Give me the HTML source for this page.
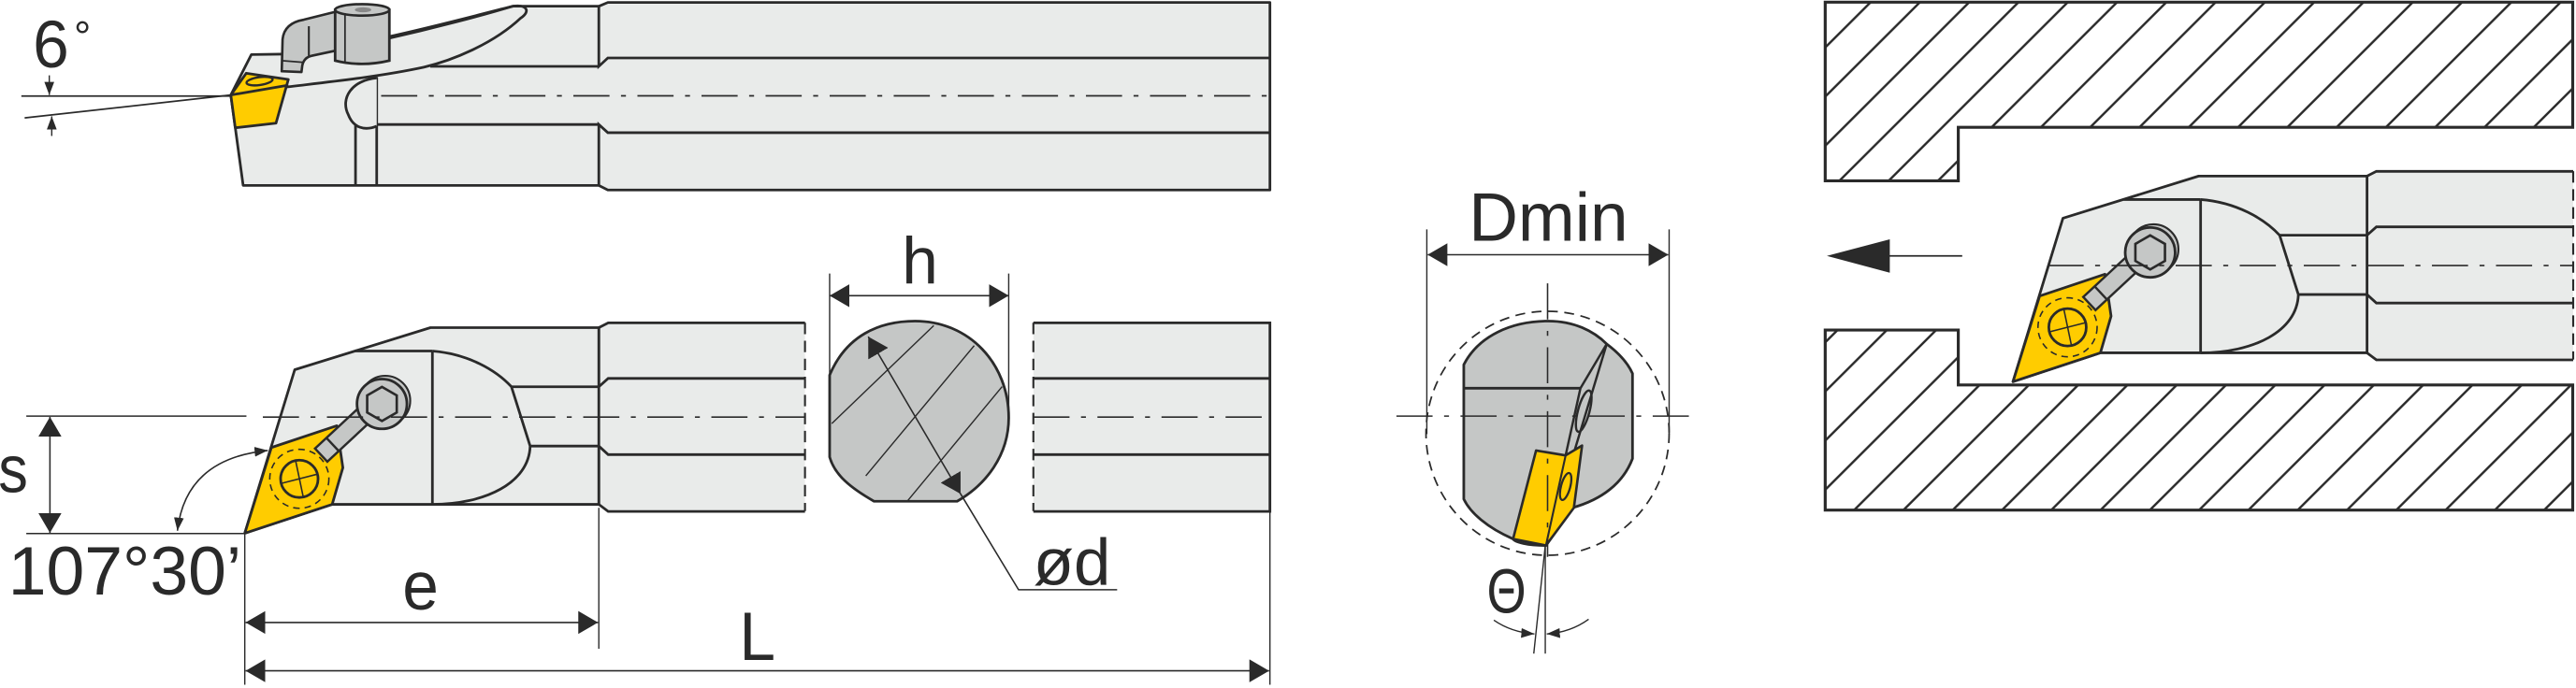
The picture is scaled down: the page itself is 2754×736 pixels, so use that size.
<!DOCTYPE html>
<html><head><meta charset="utf-8">
<style>
html,body{margin:0;padding:0;background:#fff;}
svg{display:block;}
text{font-family:"Liberation Sans",sans-serif;fill:#2a2a2a;}
</style></head>
<body>
<svg width="2754" height="736" viewBox="0 0 1568 420" preserveAspectRatio="none" xmlns="http://www.w3.org/2000/svg">
<defs>
<marker id="ar" viewBox="0 0 12 14" refX="12" refY="7" markerWidth="12" markerHeight="14" markerUnits="userSpaceOnUse" orient="auto-start-reverse"><path d="M0,0 L12,7 L0,14 Z" fill="#2a2a2a"/></marker>
<marker id="as" viewBox="0 0 8 6" refX="8" refY="3" markerWidth="8" markerHeight="6" markerUnits="userSpaceOnUse" orient="auto-start-reverse"><path d="M0,0 L8,3 L0,6 Z" fill="#2a2a2a"/></marker>
<pattern id="hatch" x="0" y="0" width="30" height="30" patternUnits="userSpaceOnUse">
<path d="M-5,35 L35,-5 M-20,20 L20,-20 M10,50 L50,10" stroke="#2a2a2a" stroke-width="1.4"/>
</pattern>
<clipPath id="insClip"><path d="M149,325.5 L165.2,273.2 L205,259.9 L208.7,285.5 L202.2,307.9 Z"/></clipPath>
<clipPath id="secClip"><path d="M505,229 C515,205 535,196 557,196 C590,196 614,222 614,255 C614,278 600,296 582.6,306 L532,306 C518,298 508,290 505,279 Z"/></clipPath>

<g id="head">
<path d="M149,325.5 L179.4,225.7 L262,200 L364.5,200 L364.5,307.9 L202.2,307.9 Z" fill="#e9ebea" stroke="#2a2a2a" stroke-width="1.6" stroke-linejoin="round"/>
<line x1="216.4" y1="214.3" x2="263.2" y2="214.3" stroke="#2a2a2a" stroke-width="1.6"/>
<path d="M263.2,214.3 C285,216 302,226 311.3,236.1 L322.7,272.3 C322,295 295,307.9 263.2,307.9" fill="#e9ebea" stroke="#2a2a2a" stroke-width="1.6"/>
<line x1="263.2" y1="214.3" x2="263.2" y2="307.9" stroke="#2a2a2a" stroke-width="1.6"/>
<line x1="311.3" y1="236.1" x2="364.5" y2="236.1" stroke="#2a2a2a" stroke-width="1.6"/>
<line x1="322.7" y1="272.3" x2="364.5" y2="272.3" stroke="#2a2a2a" stroke-width="1.6"/>
<path d="M149,325.5 L165.2,273.2 L205,259.9 L208.7,285.5 L202.2,307.9 Z" fill="#ffcc00" stroke="#2a2a2a" stroke-width="1.6" stroke-linejoin="round"/>
<circle cx="182.2" cy="292.3" r="18" fill="none" stroke="#2a2a2a" stroke-width="0.9" stroke-dasharray="4,3" clip-path="url(#insClip)"/>
<circle cx="182.2" cy="292.3" r="11.4" fill="#ffcc00" stroke="#2a2a2a" stroke-width="1.6"/>
<line x1="171.5" y1="295" x2="193" y2="289.5" stroke="#2a2a2a" stroke-width="0.9"/>
<line x1="180" y1="281.5" x2="184.5" y2="303" stroke="#2a2a2a" stroke-width="0.9"/>
<g transform="rotate(-43 195.5 277.8)">
<rect x="195.5" y="272.3" width="46" height="11" fill="#c5c7c6" stroke="#2a2a2a" stroke-width="1.4"/>
<line x1="205" y1="272.3" x2="205" y2="283.3" stroke="#2a2a2a" stroke-width="1.4"/>
</g>
<circle cx="234.5" cy="244.6" r="15.2" fill="#c5c7c6" stroke="#2a2a2a" stroke-width="1.2"/>
<circle cx="232.5" cy="246.6" r="15.2" fill="#c5c7c6" stroke="#2a2a2a" stroke-width="1.6"/>
<path d="M232.5,236.2 L241.5,241.4 L241.5,251.8 L232.5,257 L223.5,251.8 L223.5,241.4 Z" fill="#c5c7c6" stroke="#2a2a2a" stroke-width="1.5"/>
</g>
</defs>

<!-- TOP VIEW -->
<path d="M140.5,58 L153,33.3 L175,33 L234,23 C270,15 295,8 312.3,3.8 L364.5,3.8 L370,1.5 L773,1.5 L773,116 L370,116 L364.5,113.2 L148,113.2 Z" fill="#e9ebea" stroke="#2a2a2a" stroke-width="1.6" stroke-linejoin="round"/>
<path d="M364.5,3.8 L364.5,40.5 L370,35.4 L773,35.4" fill="none" stroke="#2a2a2a" stroke-width="1.6"/>
<path d="M364.5,113.2 L364.5,76 L370,81 L773,81" fill="none" stroke="#2a2a2a" stroke-width="1.6"/>
<line x1="261.9" y1="40.5" x2="364.5" y2="40.5" stroke="#2a2a2a" stroke-width="1.6"/>
<line x1="228.6" y1="76" x2="364.5" y2="76" stroke="#2a2a2a" stroke-width="1.6"/>
<path d="M234,24 C265,17 295,9 312,3.8 C321,2.5 323,7 317,11 C300,27 275,37 258,41 C230,47 200,50 172.8,53.3" fill="none" stroke="#2a2a2a" stroke-width="1.6"/>
<line x1="216.4" y1="60" x2="216.4" y2="113.2" stroke="#2a2a2a" stroke-width="1.6"/>
<line x1="229.3" y1="47" x2="229.3" y2="113.2" stroke="#2a2a2a" stroke-width="1.6"/>
<path d="M229.3,47.6 C214,49 207,60 212,70 C215,78 222,80 229.3,77" fill="#e9ebea" stroke="#2a2a2a" stroke-width="1.6"/>
<line x1="232" y1="58.5" x2="773" y2="58.5" stroke="#2a2a2a" stroke-width="1" stroke-dasharray="22,7,3,7"/>
<path d="M140.5,58 L149.9,44.7 L175.5,48.5 L168,75.2 L143.2,78 Z" fill="#ffcc00" stroke="#2a2a2a" stroke-width="1.6" stroke-linejoin="round"/>
<line x1="140.5" y1="58" x2="175.5" y2="52" stroke="#2a2a2a" stroke-width="1.6"/>
<ellipse cx="158" cy="49.5" rx="8" ry="2.4" transform="rotate(-8 158 49.5)" fill="#ffcc00" stroke="#2a2a2a" stroke-width="1.4"/>
<path d="M171.5,43.5 L172,24 Q173,14 185,12 L207,6.5 L207,34 L204,31 L190,34 Q185,35 184,40 L183.5,44 Z" fill="#c5c7c6" stroke="#2a2a2a" stroke-width="1.5" stroke-linejoin="round"/>
<line x1="188" y1="16" x2="188" y2="34" stroke="#2a2a2a" stroke-width="1.2"/>
<path d="M204,6 L204,37 Q220,41 237,37 L237,6 Z" fill="#c5c7c6" stroke="#2a2a2a" stroke-width="1.6"/>
<ellipse cx="220.5" cy="6" rx="16.5" ry="3.5" fill="#c5c7c6" stroke="#2a2a2a" stroke-width="1.5"/>
<ellipse cx="221" cy="6" rx="5" ry="1.5" fill="#888" />
<line x1="210" y1="8" x2="210" y2="38" stroke="#2a2a2a" stroke-width="1"/>
<line x1="171.5" y1="37" x2="184" y2="38" stroke="#2a2a2a" stroke-width="1"/>
<line x1="13" y1="58.6" x2="140.5" y2="58.6" stroke="#2a2a2a" stroke-width="1"/>
<line x1="15" y1="72" x2="140.5" y2="58" stroke="#2a2a2a" stroke-width="1"/>
<line x1="30" y1="46" x2="30" y2="58" stroke="#2a2a2a" stroke-width="0.8" marker-end="url(#as)"/>
<line x1="31.5" y1="83" x2="31.5" y2="71" stroke="#2a2a2a" stroke-width="0.8" marker-end="url(#as)"/>
<text x="20" y="41" font-size="41" textLength="22" lengthAdjust="spacingAndGlyphs">6</text>
<text x="45" y="31" font-size="26">°</text>

<!-- BOTTOM VIEW -->
<path d="M364.5,200 L370.2,197.1 L490,197.1 L490,312.2 L370.2,312.2 L364.5,307.9 Z" fill="#e9ebea"/>
<path d="M364.5,200 L370.2,197.1 L490,197.1 M364.5,307.9 L370.2,312.2 L490,312.2 M364.5,236.1 L370.2,231 L490,231 M364.5,272.3 L370.2,277.5 L490,277.5" fill="none" stroke="#2a2a2a" stroke-width="1.6"/>
<line x1="364.5" y1="200" x2="364.5" y2="236.1" stroke="#2a2a2a" stroke-width="1.6"/>
<line x1="364.5" y1="272.3" x2="364.5" y2="307.9" stroke="#2a2a2a" stroke-width="1.6"/>
<line x1="490" y1="197" x2="490" y2="312" stroke="#2a2a2a" stroke-width="1.2" stroke-dasharray="7,4"/>
<rect x="629" y="197.1" width="144" height="115.1" fill="#e9ebea"/>
<path d="M629,197.1 L773,197.1 L773,312.2 L629,312.2 M629,231 L773,231 M629,277.5 L773,277.5" fill="none" stroke="#2a2a2a" stroke-width="1.6"/>
<line x1="629" y1="197" x2="629" y2="312" stroke="#2a2a2a" stroke-width="1.2" stroke-dasharray="7,4"/>
<use href="#head"/>
<line x1="16" y1="254" x2="150" y2="254" stroke="#2a2a2a" stroke-width="0.9"/>
<line x1="160" y1="254.6" x2="490" y2="254.6" stroke="#2a2a2a" stroke-width="0.9" stroke-dasharray="22,7,3,7"/>
<line x1="629" y1="254.6" x2="773" y2="254.6" stroke="#2a2a2a" stroke-width="0.9" stroke-dasharray="22,7,3,7"/>
<path d="M505,229 C515,205 535,196 557,196 C590,196 614,222 614,255 C614,278 600,296 582.6,306 L532,306 C518,298 508,290 505,279 Z" fill="#c5c7c6"/>
<g clip-path="url(#secClip)" stroke="#2a2a2a" stroke-width="0.8">
<line x1="506.3" y1="258.6" x2="568.4" y2="198.7"/>
<line x1="527" y1="290.5" x2="593" y2="211"/>
<line x1="552.3" y1="305.9" x2="610" y2="236"/>
</g>
<path d="M505,229 C515,205 535,196 557,196 C590,196 614,222 614,255 C614,278 600,296 582.6,306 L532,306 C518,298 508,290 505,279 Z" fill="none" stroke="#2a2a2a" stroke-width="1.6"/>
<line x1="528.5" y1="205.5" x2="584.7" y2="301.5" stroke="#2a2a2a" stroke-width="0.9" marker-start="url(#ar)" marker-end="url(#ar)"/>
<polyline points="584.7,301.5 620,360 680,360" fill="none" stroke="#2a2a2a" stroke-width="0.9"/>
<text x="629" y="357" font-size="40" textLength="47" lengthAdjust="spacingAndGlyphs">ød</text>
<line x1="505" y1="167" x2="505" y2="250" stroke="#2a2a2a" stroke-width="0.8"/>
<line x1="614" y1="167" x2="614" y2="250" stroke="#2a2a2a" stroke-width="0.8"/>
<line x1="505" y1="180.5" x2="614" y2="180.5" stroke="#2a2a2a" stroke-width="0.9" marker-start="url(#ar)" marker-end="url(#ar)"/>
<text x="549" y="173" font-size="40" textLength="22" lengthAdjust="spacingAndGlyphs">h</text>
<line x1="16" y1="325.7" x2="150" y2="325.7" stroke="#2a2a2a" stroke-width="0.9"/>
<line x1="30.4" y1="254.5" x2="30.4" y2="325.3" stroke="#2a2a2a" stroke-width="0.9" marker-start="url(#ar)" marker-end="url(#ar)"/>
<text x="-1" y="300.5" font-size="41" textLength="18" lengthAdjust="spacingAndGlyphs">s</text>
<path d="M108,324 Q113,280 163,275" fill="none" stroke="#2a2a2a" stroke-width="0.9" marker-start="url(#as)" marker-end="url(#as)"/>
<text x="5" y="363" font-size="42" textLength="142" lengthAdjust="spacingAndGlyphs">107°30’</text>
<line x1="149" y1="326" x2="149" y2="418" stroke="#2a2a2a" stroke-width="0.8"/>
<line x1="364.5" y1="310" x2="364.5" y2="396" stroke="#2a2a2a" stroke-width="0.8"/>
<line x1="773" y1="312" x2="773" y2="418" stroke="#2a2a2a" stroke-width="0.8"/>
<line x1="149.5" y1="380" x2="364" y2="380" stroke="#2a2a2a" stroke-width="0.9" marker-start="url(#ar)" marker-end="url(#ar)"/>
<text x="245" y="372" font-size="42" textLength="22" lengthAdjust="spacingAndGlyphs">e</text>
<line x1="149.5" y1="409.5" x2="772.5" y2="409.5" stroke="#2a2a2a" stroke-width="0.9" marker-start="url(#ar)" marker-end="url(#ar)"/>
<text x="450" y="403" font-size="42" textLength="22" lengthAdjust="spacingAndGlyphs">L</text>

<!-- END VIEW -->
<line x1="868.5" y1="140" x2="868.5" y2="265" stroke="#2a2a2a" stroke-width="0.8"/>
<line x1="1016" y1="140" x2="1016" y2="265" stroke="#2a2a2a" stroke-width="0.8"/>
<line x1="869" y1="155.5" x2="1015.5" y2="155.5" stroke="#2a2a2a" stroke-width="0.9" marker-start="url(#ar)" marker-end="url(#ar)"/>
<text x="894" y="147" font-size="42" textLength="97" lengthAdjust="spacingAndGlyphs">Dmin</text>
<ellipse cx="942" cy="264.5" rx="74" ry="74.5" fill="none" stroke="#2a2a2a" stroke-width="1" stroke-dasharray="6,4"/>
<path d="M891,222.6 C900,205 920,196 942.5,196 C958,196 970,202 978,210 C986,216 991,222 993.7,228 L993.7,280 C988,295 975,305 957,310 L941,333 C930,333 922,331 921,329 C905,322 895,313 891,304.7 Z" fill="#c5c7c6" stroke="#2a2a2a" stroke-width="1.6" stroke-linejoin="round"/>
<line x1="891" y1="237" x2="962" y2="237" stroke="#2a2a2a" stroke-width="1.6"/>
<path d="M978,210 L962,237 L953,278" fill="none" stroke="#2a2a2a" stroke-width="1.4"/>
<line x1="978" y1="210" x2="941" y2="333" stroke="#2a2a2a" stroke-width="1.4"/>
<ellipse cx="964" cy="251" rx="3.5" ry="13" transform="rotate(15 964 251)" fill="none" stroke="#2a2a2a" stroke-width="1.4"/>
<path d="M921,329 L935,275 L953,278 L963,272 L958,310 L941,333 Z" fill="#ffcc00" stroke="#2a2a2a" stroke-width="1.5" stroke-linejoin="round"/>
<line x1="953" y1="278" x2="941" y2="333" stroke="#2a2a2a" stroke-width="1.2"/>
<ellipse cx="953" cy="297" rx="2.8" ry="8.5" transform="rotate(15 953 297)" fill="none" stroke="#2a2a2a" stroke-width="1.3"/>
<line x1="850" y1="254" x2="1035" y2="254" stroke="#2a2a2a" stroke-width="0.9" stroke-dasharray="22,7,3,7"/>
<line x1="942" y1="173" x2="942" y2="340" stroke="#2a2a2a" stroke-width="0.9" stroke-dasharray="22,7,3,7"/>
<line x1="940.6" y1="333" x2="933.6" y2="399" stroke="#2a2a2a" stroke-width="0.8"/>
<line x1="940.6" y1="333" x2="940.6" y2="399" stroke="#2a2a2a" stroke-width="0.8"/>
<path d="M909.3,378.6 Q920,386 934,387" fill="none" stroke="#2a2a2a" stroke-width="0.8" marker-end="url(#as)"/>
<path d="M967,378 Q956,386 941.5,387" fill="none" stroke="#2a2a2a" stroke-width="0.8" marker-end="url(#as)"/>
<text x="905" y="374" font-size="38" textLength="24" lengthAdjust="spacingAndGlyphs">Θ</text>

<!-- RIGHT VIEW -->
<path d="M1111,1.3 L1566,1.3 L1566,77.7 L1192,77.7 L1192,110.4 L1111,110.4 Z" fill="url(#hatch)" stroke="#2a2a2a" stroke-width="1.8"/>
<path d="M1111,201.5 L1192,201.5 L1192,235 L1566,235 L1566,311.4 L1111,311.4 Z" fill="url(#hatch)" stroke="#2a2a2a" stroke-width="1.8"/>
<path d="M1112,156.2 L1150.3,146.1 L1150.3,166.5 Z" fill="#2a2a2a"/>
<line x1="1150" y1="156.2" x2="1194.4" y2="156.2" stroke="#2a2a2a" stroke-width="1"/>
<g transform="translate(1076.3,-92.5)">
<path d="M364.5,200 L370.2,197.1 L490,197.1 L490,312.2 L370.2,312.2 L364.5,307.9 Z" fill="#e9ebea"/>
<path d="M364.5,200 L370.2,197.1 L490,197.1 M364.5,307.9 L370.2,312.2 L490,312.2 M364.5,236.1 L370.2,231 L490,231 M364.5,272.3 L370.2,277.5 L490,277.5" fill="none" stroke="#2a2a2a" stroke-width="1.6"/>
<line x1="364.5" y1="200" x2="364.5" y2="236.1" stroke="#2a2a2a" stroke-width="1.6"/>
<line x1="364.5" y1="272.3" x2="364.5" y2="307.9" stroke="#2a2a2a" stroke-width="1.6"/>
<line x1="490" y1="197" x2="490" y2="312" stroke="#2a2a2a" stroke-width="1.2" stroke-dasharray="7,4"/>
<use href="#head"/>
<line x1="170" y1="254.6" x2="490" y2="254.6" stroke="#2a2a2a" stroke-width="0.9" stroke-dasharray="22,7,3,7"/>
</g>
</svg>
</body></html>
